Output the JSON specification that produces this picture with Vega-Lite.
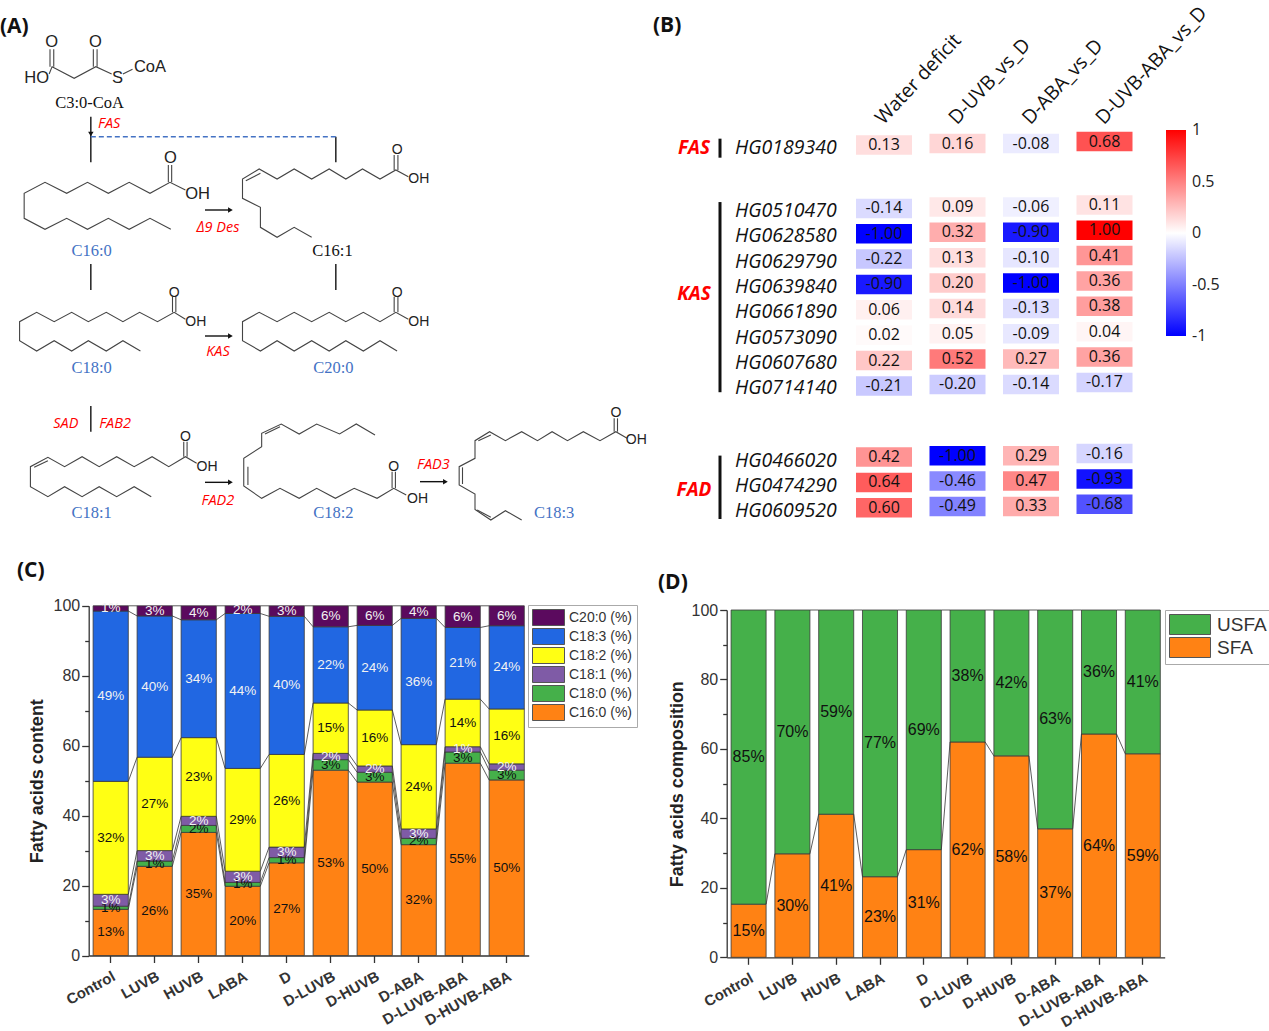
{"$schema":"https://vega.github.io/schema/vega-lite/v6.json","padding":0,"background":"white","columns":2,"spacing":0,"bounds":"flush","align":"all","config":{"view":{"stroke":null}},"concat":[
{"width":650,"height":550,"title":{"text":"(A)","anchor":"start","frame":"group","offset":-37,"dx":0,"font":"Open Sans","fontSize":21,"fontWeight":"bold","color":"#111"},"layer":[
{"data":{"values":[
{"s":"c3","x":[118,125,178,230,268],"y":[222,200,235,200,222]},{"s":"c3a","x":[120,120],"y":[148,200]},{"s":"c3b","x":[129,129],"y":[148,200]},{"s":"c3c","x":[224,224],"y":[148,200]},{"s":"c3d","x":[233,233],"y":[148,200]},{"s":"c3e","x":[295,318],"y":[222,208]},
{"s":"c160","x":[445,408,360,310,260,210,160,108,58,58,108,160,210,260,310,360,410],"y":[570,547,580,547,580,547,580,547,580,655,688,655,688,655,688,655,688]},{"s":"c160a","x":[404,404],"y":[495,547]},{"s":"c160b","x":[412,412],"y":[495,547]},
{"s":"c161","x":[980,950,912,870,830,790,748,706,665,622,582,582,625,625,665,706,748],"y":[530,510,537,507,537,507,537,507,537,507,537,595,622,682,712,682,712]},{"s":"c161a","x":[590,625],"y":[542,520]},{"s":"c161b","x":[946,946],"y":[465,510]},{"s":"c161c","x":[955,955],"y":[465,510]},
{"s":"c180","x":[445,418,378,335,295,255,212,172,130,88,47,47,88,130,172,212,255,295,337],"y":[958,937,965,937,965,937,965,937,965,937,965,1022,1053,1022,1053,1022,1053,1022,1053]},{"s":"c180a","x":[414,414],"y":[890,937]},{"s":"c180b","x":[422,422],"y":[890,937]},
{"s":"c200","x":[980,950,912,872,830,790,748,706,665,622,582,582,625,665,706,748,790,830,872,912,953],"y":[958,937,965,937,965,937,965,937,965,937,965,1022,1053,1022,1053,1022,1053,1022,1053,1022,1053]},{"s":"c200a","x":[946,946],"y":[890,937]},{"s":"c200b","x":[955,955],"y":[890,937]},
{"s":"c181","x":[472,445,405,365,322,280,238,197,155,115,73,73,115,155,197,238,280,322,363],"y":[1390,1370,1400,1370,1400,1370,1400,1370,1400,1372,1400,1460,1490,1460,1490,1460,1490,1460,1490]},{"s":"c181a","x":[82,115],"y":[1402,1382]},{"s":"c181b","x":[441,441],"y":[1325,1370]},{"s":"c181c","x":[449,449],"y":[1325,1370]},
{"s":"c182","x":[900,855,815,760,718,675,628,628,585,585,628,672,718,760,805,850,905,945,975],"y":[1305,1272,1302,1272,1302,1272,1300,1340,1375,1458,1495,1465,1495,1465,1495,1465,1495,1465,1485]},{"s":"c182a","x":[636,672],"y":[1302,1280]},{"s":"c182b","x":[595,595],"y":[1400,1455]},{"s":"c182c","x":[941,941],"y":[1415,1465]},{"s":"c182d","x":[949,949],"y":[1415,1465]},
{"s":"c183","x":[1505,1478,1440,1400,1362,1325,1290,1252,1213,1175,1140,1140,1102,1102,1140,1140,1178,1213,1252],"y":[1315,1295,1322,1295,1322,1295,1322,1295,1322,1295,1322,1375,1400,1455,1482,1528,1560,1532,1560]},{"s":"c183a","x":[1148,1178],"y":[1322,1305]},{"s":"c183b","x":[1110,1110],"y":[1402,1452]},{"s":"c183c","x":[1145,1178],"y":[1530,1552]},{"s":"c183d","x":[1474,1474],"y":[1255,1295]},{"s":"c183e","x":[1482,1482],"y":[1255,1295]}
]},"transform":[{"flatten":["x","y"]},{"window":[{"op":"row_number","as":"o"}]}],"mark":{"type":"line","color":"#444","strokeWidth":1.1},"encoding":{"x":{"field":"x","type":"quantitative","scale":{"domain":[0,1560],"range":[0,650],"nice":false,"zero":false},"axis":null},"y":{"field":"y","type":"quantitative","scale":{"domain":[0,1650],"range":[0,550],"nice":false,"zero":false},"axis":null},"detail":{"field":"s"},"order":{"field":"o"}}},
{"data":{"values":[
{"s":"a1","x":[218,218],"y":[350,487]},{"s":"a2","x":[806,806],"y":[410,487]},{"s":"a3","x":[218,218],"y":[792,870]},{"s":"a4","x":[806,806],"y":[792,870]},{"s":"a5","x":[218,218],"y":[1218,1295]},{"s":"a6","x":[492,552],"y":[630,630]},{"s":"a7","x":[492,552],"y":[1008,1008]},{"s":"a8","x":[492,552],"y":[1447,1447]},{"s":"a9","x":[1008,1068],"y":[1445,1445]}
]},"transform":[{"flatten":["x","y"]}],"mark":{"type":"line","color":"#111","strokeWidth":1.4},"encoding":{"x":{"field":"x","type":"quantitative"},"y":{"field":"y","type":"quantitative"},"detail":{"field":"s"}}},
{"data":{"values":[{"x":[218,806],"y":[410,410]}]},"transform":[{"flatten":["x","y"]}],"mark":{"type":"line","color":"#4472c4","strokeWidth":1.5,"strokeDash":[5,3]},"encoding":{"x":{"field":"x","type":"quantitative"},"y":{"field":"y","type":"quantitative"}}},
{"data":{"values":[{"x":218,"y":402,"shape":"triangle-down"},{"x":553,"y":630,"shape":"triangle-right"},{"x":553,"y":1008,"shape":"triangle-right"},{"x":553,"y":1447,"shape":"triangle-right"},{"x":1069,"y":1445,"shape":"triangle-right"}]},"mark":{"type":"point","filled":true,"color":"#111","size":30,"opacity":1},"encoding":{"x":{"field":"x","type":"quantitative"},"y":{"field":"y","type":"quantitative"},"shape":{"field":"shape","type":"nominal","scale":null}}},
{"data":{"values":[{"t":"C3:0-CoA","x":215,"y":310},{"t":"C16:1","x":798,"y":752}]},"mark":{"type":"text","font":"Liberation Serif","fontSize":16.5,"color":"#111"},"encoding":{"x":{"field":"x","type":"quantitative"},"y":{"field":"y","type":"quantitative"},"text":{"field":"t"}}},
{"data":{"values":[{"t":"C16:0","x":220,"y":752},{"t":"C18:0","x":220,"y":1103},{"t":"C20:0","x":800,"y":1103},{"t":"C18:1","x":220,"y":1540},{"t":"C18:2","x":800,"y":1540},{"t":"C18:3","x":1330,"y":1540}]},"mark":{"type":"text","font":"Liberation Serif","fontSize":16.5,"color":"#4472c4"},"encoding":{"x":{"field":"x","type":"quantitative"},"y":{"field":"y","type":"quantitative"},"text":{"field":"t"}}},
{"data":{"values":[{"t":"FAS","x":262,"y":373},{"t":"Δ9 Des","x":523,"y":684},{"t":"KAS","x":523,"y":1055},{"t":"SAD","x":158,"y":1273},{"t":"FAB2","x":276,"y":1273},{"t":"FAD2","x":523,"y":1503},{"t":"FAD3","x":1040,"y":1395}]},"mark":{"type":"text","font":"Open Sans","fontStyle":"italic","fontSize":14.5,"color":"#ff0000"},"encoding":{"x":{"field":"x","type":"quantitative"},"y":{"field":"y","type":"quantitative"},"text":{"field":"t"}}},
{"data":{"values":[{"t":"HO","x":88,"y":235},{"t":"O","x":124,"y":125},{"t":"O","x":229,"y":125},{"t":"S","x":282,"y":235},{"t":"CoA","x":360,"y":200},{"t":"O","x":409,"y":475},{"t":"OH","x":474,"y":583}]},"mark":{"type":"text","font":"Liberation Sans","fontSize":16.5,"color":"#222"},"encoding":{"x":{"field":"x","type":"quantitative"},"y":{"field":"y","type":"quantitative"},"text":{"field":"t"}}},
{"data":{"values":[{"t":"O","x":953,"y":450},{"t":"OH","x":1005,"y":538},{"t":"O","x":418,"y":878},{"t":"OH","x":470,"y":965},{"t":"O","x":953,"y":878},{"t":"OH","x":1005,"y":965},{"t":"O","x":445,"y":1312},{"t":"OH","x":497,"y":1400},{"t":"O","x":945,"y":1400},{"t":"OH","x":1002,"y":1498},{"t":"O","x":1478,"y":1240},{"t":"OH","x":1527,"y":1320}]},"mark":{"type":"text","font":"Liberation Sans","fontSize":14,"color":"#222"},"encoding":{"x":{"field":"x","type":"quantitative"},"y":{"field":"y","type":"quantitative"},"text":{"field":"t"}}}
]},
{"width":619,"height":550,"title":{"text":"(B)","anchor":"start","frame":"group","offset":-36,"dx":3,"font":"Open Sans","fontSize":21,"fontWeight":"bold","color":"#111"},
"data":{"values":[
{"gene":"HG0189340","comparison":"Water deficit","value":0.13},{"gene":"HG0189340","comparison":"D-UVB_vs_D","value":0.16},{"gene":"HG0189340","comparison":"D-ABA_vs_D","value":-0.08},{"gene":"HG0189340","comparison":"D-UVB-ABA_vs_D","value":0.68},
{"gene":"HG0510470","comparison":"Water deficit","value":-0.14},{"gene":"HG0510470","comparison":"D-UVB_vs_D","value":0.09},{"gene":"HG0510470","comparison":"D-ABA_vs_D","value":-0.06},{"gene":"HG0510470","comparison":"D-UVB-ABA_vs_D","value":0.11},
{"gene":"HG0628580","comparison":"Water deficit","value":-1},{"gene":"HG0628580","comparison":"D-UVB_vs_D","value":0.32},{"gene":"HG0628580","comparison":"D-ABA_vs_D","value":-0.9},{"gene":"HG0628580","comparison":"D-UVB-ABA_vs_D","value":1},
{"gene":"HG0629790","comparison":"Water deficit","value":-0.22},{"gene":"HG0629790","comparison":"D-UVB_vs_D","value":0.13},{"gene":"HG0629790","comparison":"D-ABA_vs_D","value":-0.1},{"gene":"HG0629790","comparison":"D-UVB-ABA_vs_D","value":0.41},
{"gene":"HG0639840","comparison":"Water deficit","value":-0.9},{"gene":"HG0639840","comparison":"D-UVB_vs_D","value":0.2},{"gene":"HG0639840","comparison":"D-ABA_vs_D","value":-1},{"gene":"HG0639840","comparison":"D-UVB-ABA_vs_D","value":0.36},
{"gene":"HG0661890","comparison":"Water deficit","value":0.06},{"gene":"HG0661890","comparison":"D-UVB_vs_D","value":0.14},{"gene":"HG0661890","comparison":"D-ABA_vs_D","value":-0.13},{"gene":"HG0661890","comparison":"D-UVB-ABA_vs_D","value":0.38},
{"gene":"HG0573090","comparison":"Water deficit","value":0.02},{"gene":"HG0573090","comparison":"D-UVB_vs_D","value":0.05},{"gene":"HG0573090","comparison":"D-ABA_vs_D","value":-0.09},{"gene":"HG0573090","comparison":"D-UVB-ABA_vs_D","value":0.04},
{"gene":"HG0607680","comparison":"Water deficit","value":0.22},{"gene":"HG0607680","comparison":"D-UVB_vs_D","value":0.52},{"gene":"HG0607680","comparison":"D-ABA_vs_D","value":0.27},{"gene":"HG0607680","comparison":"D-UVB-ABA_vs_D","value":0.36},
{"gene":"HG0714140","comparison":"Water deficit","value":-0.21},{"gene":"HG0714140","comparison":"D-UVB_vs_D","value":-0.2},{"gene":"HG0714140","comparison":"D-ABA_vs_D","value":-0.14},{"gene":"HG0714140","comparison":"D-UVB-ABA_vs_D","value":-0.17},
{"gene":"HG0466020","comparison":"Water deficit","value":0.42},{"gene":"HG0466020","comparison":"D-UVB_vs_D","value":-1},{"gene":"HG0466020","comparison":"D-ABA_vs_D","value":0.29},{"gene":"HG0466020","comparison":"D-UVB-ABA_vs_D","value":-0.16},
{"gene":"HG0474290","comparison":"Water deficit","value":0.64},{"gene":"HG0474290","comparison":"D-UVB_vs_D","value":-0.46},{"gene":"HG0474290","comparison":"D-ABA_vs_D","value":0.47},{"gene":"HG0474290","comparison":"D-UVB-ABA_vs_D","value":-0.93},
{"gene":"HG0609520","comparison":"Water deficit","value":0.6},{"gene":"HG0609520","comparison":"D-UVB_vs_D","value":-0.49},{"gene":"HG0609520","comparison":"D-ABA_vs_D","value":0.33},{"gene":"HG0609520","comparison":"D-UVB-ABA_vs_D","value":-0.68}
]},
"encoding":{"x":{"field":"comparison","type":"nominal","scale":{"domain":["Water deficit","D-UVB_vs_D","D-ABA_vs_D","D-UVB-ABA_vs_D"],"range":[197.25,491.25],"padding":0},"axis":{"orient":"top","title":null,"offset":-125,"domain":false,"ticks":false,"labelAngle":-47,"labelAlign":"left","labelBaseline":"middle","labelPadding":4,"labelOffset":-5,"labelFont":"Open Sans","labelFontSize":19.5,"labelColor":"#111","labelOverlap":false,"labelBound":false,"labelLimit":300}},"y":{"field":"gene","type":"nominal","scale":{"domain":["s00","HG0189340","s1","s2","s3","s4","s5","s6","s7","s8","s9","HG0510470","s11","s12","s13","HG0628580","s15","s16","s17","HG0629790","s19","s20","s21","HG0639840","s23","s24","s25","HG0661890","s27","s28","s29","HG0573090","s31","s32","s33","HG0607680","s35","s36","s37","HG0714140","s39","s40","s41","s42","s43","s44","s45","s46","s47","s48","HG0466020","s50","s51","s52","HG0474290","s54","s55","s56","HG0609520","s58","s59","s60"],"range":[135.5,528.5],"padding":0},"axis":{"title":null,"offset":-197.25,"domain":false,"ticks":false,"labelPadding":11,"values":["HG0189340","HG0510470","HG0628580","HG0629790","HG0639840","HG0661890","HG0573090","HG0607680","HG0714140","HG0466020","HG0474290","HG0609520"],"labelOffset":{"expr":"indexof(['HG0466020','HG0474290','HG0609520'],datum.value)>=0?5:2.5"},"labelFont":"Open Sans","labelFontStyle":"italic","labelFontSize":19.5,"labelColor":"#111","labelOverlap":false,"labelBound":false}}},
"layer":[
{"mark":{"type":"rect","width":56,"height":19.5,"yOffset":{"expr":"(datum.comparison==='Water deficit'?0:datum.comparison==='D-UVB-ABA_vs_D'?-3.5:-1.4)+(indexof(['HG0466020','HG0474290','HG0609520'],datum.gene)>=0?1.5:0)"}},"encoding":{"color":{"field":"value","type":"quantitative","scale":{"domain":[-1,0,1],"range":["#0000ff","#ffffff","#ff0000"],"interpolate":"rgb"},"legend":{"orient":"none","legendX":516,"legendY":130,"title":null,"direction":"vertical","gradientLength":206,"gradientThickness":20,"values":[1,0.5,0,-0.5,-1],"labelExpr":"replace(format(datum.value,'.2~f'),'−','-')","labelFont":"Open Sans","labelFontSize":16,"labelColor":"#222","labelOffset":6,"labelOverlap":false,"encode":{"labels":{"update":{"baseline":{"value":"middle"}}}}}}}},
{"transform":[{"calculate":"replace(format(datum.value,'.2f'),'−','-')","as":"shown"}],"mark":{"type":"text","font":"Open Sans","fontSize":16,"color":"#111","yOffset":{"expr":"(datum.comparison==='Water deficit'?0:datum.comparison==='D-UVB-ABA_vs_D'?-3.5:-1.4)+(indexof(['HG0466020','HG0474290','HG0609520'],datum.gene)>=0?1.5:0)"}},"encoding":{"text":{"field":"shown"}}},
{"data":{"values":[{"f":"FAS","gene":"HG0189340","comparison":"Water deficit"},{"f":"KAS","gene":"s23","comparison":"Water deficit"},{"f":"FAD","gene":"s54","comparison":"Water deficit"}]},"mark":{"type":"text","font":"Open Sans","fontSize":19,"fontWeight":"bold","fontStyle":"italic","color":"#ff0000","dx":-190,"dy":3},"encoding":{"text":{"field":"f"}}},
{"data":{"values":[{"f":"FAS","a":"s00","b":"s2"},{"f":"KAS","a":"s9","b":"s39"},{"f":"FAD","a":"HG0466020","b":"s59"}]},"mark":{"type":"rule","color":"#111","strokeWidth":3,"xOffset":-164},"encoding":{"x":{"datum":"Water deficit"},"y":{"field":"a","type":"nominal"},"y2":{"field":"b"}}}
]},
{"width":650,"height":481,"title":{"text":"(C)","anchor":"start","frame":"group","offset":-31,"dx":17,"font":"Open Sans","fontSize":21,"fontWeight":"bold","color":"#111"},
"data":{"values":[
{"treatment":"Control","fa":"C16:0 (%)","value":13.2,"label":"13%"},{"treatment":"Control","fa":"C18:0 (%)","value":0.9,"label":"1%"},{"treatment":"Control","fa":"C18:1 (%)","value":3.4,"label":"3%"},{"treatment":"Control","fa":"C18:2 (%)","value":32.3,"label":"32%"},{"treatment":"Control","fa":"C18:3 (%)","value":48.7,"label":"49%"},{"treatment":"Control","fa":"C20:0 (%)","value":1.5,"label":"1%"},
{"treatment":"LUVB","fa":"C16:0 (%)","value":25.5,"label":"26%"},{"treatment":"LUVB","fa":"C18:0 (%)","value":1.5,"label":"1%"},{"treatment":"LUVB","fa":"C18:1 (%)","value":3,"label":"3%"},{"treatment":"LUVB","fa":"C18:2 (%)","value":26.7,"label":"27%"},{"treatment":"LUVB","fa":"C18:3 (%)","value":40.4,"label":"40%"},{"treatment":"LUVB","fa":"C20:0 (%)","value":2.9,"label":"3%"},
{"treatment":"HUVB","fa":"C16:0 (%)","value":35.2,"label":"35%"},{"treatment":"HUVB","fa":"C18:0 (%)","value":2,"label":"2%"},{"treatment":"HUVB","fa":"C18:1 (%)","value":2.6,"label":"2%"},{"treatment":"HUVB","fa":"C18:2 (%)","value":22.5,"label":"23%"},{"treatment":"HUVB","fa":"C18:3 (%)","value":33.7,"label":"34%"},{"treatment":"HUVB","fa":"C20:0 (%)","value":4,"label":"4%"},
{"treatment":"LABA","fa":"C16:0 (%)","value":19.8,"label":"20%"},{"treatment":"LABA","fa":"C18:0 (%)","value":1.1,"label":"1%"},{"treatment":"LABA","fa":"C18:1 (%)","value":3.2,"label":"3%"},{"treatment":"LABA","fa":"C18:2 (%)","value":29.4,"label":"29%"},{"treatment":"LABA","fa":"C18:3 (%)","value":44.3,"label":"44%"},{"treatment":"LABA","fa":"C20:0 (%)","value":2.2,"label":"2%"},
{"treatment":"D","fa":"C16:0 (%)","value":26.5,"label":"27%"},{"treatment":"D","fa":"C18:0 (%)","value":1.5,"label":"1%"},{"treatment":"D","fa":"C18:1 (%)","value":3,"label":"3%"},{"treatment":"D","fa":"C18:2 (%)","value":26.5,"label":"26%"},{"treatment":"D","fa":"C18:3 (%)","value":39.5,"label":"40%"},{"treatment":"D","fa":"C20:0 (%)","value":3,"label":"3%"},
{"treatment":"D-LUVB","fa":"C16:0 (%)","value":53,"label":"53%"},{"treatment":"D-LUVB","fa":"C18:0 (%)","value":3,"label":"3%"},{"treatment":"D-LUVB","fa":"C18:1 (%)","value":1.8,"label":"2%"},{"treatment":"D-LUVB","fa":"C18:2 (%)","value":14.4,"label":"15%"},{"treatment":"D-LUVB","fa":"C18:3 (%)","value":21.8,"label":"22%"},{"treatment":"D-LUVB","fa":"C20:0 (%)","value":6,"label":"6%"},
{"treatment":"D-HUVB","fa":"C16:0 (%)","value":49.6,"label":"50%"},{"treatment":"D-HUVB","fa":"C18:0 (%)","value":2.8,"label":"3%"},{"treatment":"D-HUVB","fa":"C18:1 (%)","value":1.8,"label":"2%"},{"treatment":"D-HUVB","fa":"C18:2 (%)","value":16,"label":"16%"},{"treatment":"D-HUVB","fa":"C18:3 (%)","value":24.2,"label":"24%"},{"treatment":"D-HUVB","fa":"C20:0 (%)","value":5.6,"label":"6%"},
{"treatment":"D-ABA","fa":"C16:0 (%)","value":31.7,"label":"32%"},{"treatment":"D-ABA","fa":"C18:0 (%)","value":1.8,"label":"2%"},{"treatment":"D-ABA","fa":"C18:1 (%)","value":2.7,"label":"3%"},{"treatment":"D-ABA","fa":"C18:2 (%)","value":24.1,"label":"24%"},{"treatment":"D-ABA","fa":"C18:3 (%)","value":36.1,"label":"36%"},{"treatment":"D-ABA","fa":"C20:0 (%)","value":3.6,"label":"4%"},
{"treatment":"D-LUVB-ABA","fa":"C16:0 (%)","value":55,"label":"55%"},{"treatment":"D-LUVB-ABA","fa":"C18:0 (%)","value":3.2,"label":"3%"},{"treatment":"D-LUVB-ABA","fa":"C18:1 (%)","value":1.5,"label":"1%"},{"treatment":"D-LUVB-ABA","fa":"C18:2 (%)","value":13.6,"label":"14%"},{"treatment":"D-LUVB-ABA","fa":"C18:3 (%)","value":20.5,"label":"21%"},{"treatment":"D-LUVB-ABA","fa":"C20:0 (%)","value":6.2,"label":"6%"},
{"treatment":"D-HUVB-ABA","fa":"C16:0 (%)","value":50.2,"label":"50%"},{"treatment":"D-HUVB-ABA","fa":"C18:0 (%)","value":2.8,"label":"3%"},{"treatment":"D-HUVB-ABA","fa":"C18:1 (%)","value":1.8,"label":"2%"},{"treatment":"D-HUVB-ABA","fa":"C18:2 (%)","value":15.7,"label":"16%"},{"treatment":"D-HUVB-ABA","fa":"C18:3 (%)","value":23.8,"label":"24%"},{"treatment":"D-HUVB-ABA","fa":"C20:0 (%)","value":5.7,"label":"6%"}
]},
"transform":[{"calculate":"indexof(['Control','LUVB','HUVB','LABA','D','D-LUVB','D-HUVB','D-ABA','D-LUVB-ABA','D-HUVB-ABA'],datum.treatment)","as":"ti"},{"calculate":"indexof(['C16:0 (%)','C18:0 (%)','C18:1 (%)','C18:2 (%)','C18:3 (%)','C20:0 (%)'],datum.fa)","as":"fi"},{"stack":"value","groupby":["treatment"],"sort":[{"field":"fi","order":"ascending"}],"as":["y0","y1"]},{"calculate":"(datum.y0+datum.y1)/2","as":"mid"}],
"layer":[
{"mark":{"type":"bar","stroke":"#3a3a3a","strokeWidth":0.8},"encoding":{"x":{"field":"treatment","type":"nominal","scale":{"domain":["Control","LUVB","HUVB","LABA","D","D-LUVB","D-HUVB","D-ABA","D-LUVB-ABA","D-HUVB-ABA"],"range":[88.7,528.7],"paddingInner":0.2,"paddingOuter":0.1},"axis":{"title":null,"orient":"bottom","offset":-75.5,"labelAngle":-29,"labelAlign":"right","labelBaseline":"top","labelFont":"Liberation Sans","labelFontWeight":"bold","labelFontSize":15,"labelColor":"#333","tickColor":"#333","domainColor":"#333","domainWidth":1.3,"tickWidth":1.3,"tickSize":7,"labelPadding":6,"labelOverlap":false,"labelBound":false}},"y":{"field":"y0","type":"quantitative","scale":{"domain":[0,100],"range":[405.5,55.8],"nice":false,"zero":false},"axis":{"title":"Fatty acids content","orient":"left","offset":-88.7,"grid":false,"values":[0,10,20,30,40,50,60,70,80,90,100],"labelExpr":"datum.value%20==0?datum.label:''","tickSize":{"expr":"datum.value%20==0?7:4"},"labelFont":"Liberation Sans","labelFontSize":16,"labelColor":"#333","tickColor":"#333","domainColor":"#333","domainWidth":1.3,"tickWidth":1.3,"titleFont":"Liberation Sans","titleFontSize":18,"titleFontWeight":"bold","titleColor":"#222","titlePadding":7,"labelOverlap":false,"labelBound":false}},"y2":{"field":"y1"},"color":{"field":"fa","type":"nominal","scale":{"domain":["C20:0 (%)","C18:3 (%)","C18:2 (%)","C18:1 (%)","C18:0 (%)","C16:0 (%)"],"range":["#5b0a5e","#2167e2","#ffff14","#7f5ba6","#45b04a","#ff8214"]},"legend":{"orient":"none","legendX":528,"legendY":55,"title":null,"symbolType":"M-1,-1H3V1H-1Z","symbolSize":256,"symbolStrokeColor":"#555","symbolStrokeWidth":1,"labelOffset":20,"labelFont":"Liberation Sans","labelFontSize":14,"labelColor":"#333","rowPadding":-4.5,"padding":4,"strokeColor":"#aaa","fillColor":"#fff"}}}},
{"transform":[{"window":[{"op":"lead","field":"y1","as":"ny"},{"op":"lead","field":"treatment","as":"nc"}],"groupby":["fa"],"sort":[{"field":"ti","order":"ascending"}]},{"filter":"isValid(datum.nc)"},{"calculate":"[{c:datum.treatment,s:'R',v:datum.y1},{c:datum.nc,s:'L',v:datum.ny}]","as":"pts"},{"flatten":["pts"]},{"calculate":"datum.pts.c","as":"pc"},{"calculate":"datum.pts.s","as":"ps"},{"calculate":"datum.pts.v","as":"pv"},{"calculate":"datum.fa+datum.ti","as":"seg"}],"mark":{"type":"line","color":"#333","strokeWidth":0.8},"encoding":{"x":{"field":"pc","type":"nominal"},"xOffset":{"field":"ps","type":"nominal","scale":{"type":"point","domain":["L","R"],"padding":0}},"y":{"field":"pv","type":"quantitative"},"detail":{"field":"seg"}}},
{"mark":{"type":"text","font":"Liberation Sans","fontSize":13.5},"encoding":{"x":{"field":"treatment","type":"nominal"},"y":{"field":"mid","type":"quantitative"},"text":{"field":"label"},"color":{"condition":{"test":"datum.fi>=4||datum.fi==2","value":"#f2f2f2"},"value":"#111"}}}
],"resolve":{"scale":{"xOffset":"independent"}}},
{"width":619,"height":481,"title":{"text":"(D)","anchor":"start","frame":"group","offset":-43,"dx":8,"font":"Open Sans","fontSize":21,"fontWeight":"bold","color":"#111"},
"data":{"values":[
{"treatment":"Control","fa":"SFA","value":15.3,"label":"15%"},{"treatment":"Control","fa":"USFA","value":84.7,"label":"85%"},
{"treatment":"LUVB","fa":"SFA","value":29.8,"label":"30%"},{"treatment":"LUVB","fa":"USFA","value":70.2,"label":"70%"},
{"treatment":"HUVB","fa":"SFA","value":41.2,"label":"41%"},{"treatment":"HUVB","fa":"USFA","value":58.8,"label":"59%"},
{"treatment":"LABA","fa":"SFA","value":23.2,"label":"23%"},{"treatment":"LABA","fa":"USFA","value":76.8,"label":"77%"},
{"treatment":"D","fa":"SFA","value":31,"label":"31%"},{"treatment":"D","fa":"USFA","value":69,"label":"69%"},
{"treatment":"D-LUVB","fa":"SFA","value":62,"label":"62%"},{"treatment":"D-LUVB","fa":"USFA","value":38,"label":"38%"},
{"treatment":"D-HUVB","fa":"SFA","value":58,"label":"58%"},{"treatment":"D-HUVB","fa":"USFA","value":42,"label":"42%"},
{"treatment":"D-ABA","fa":"SFA","value":37,"label":"37%"},{"treatment":"D-ABA","fa":"USFA","value":63,"label":"63%"},
{"treatment":"D-LUVB-ABA","fa":"SFA","value":64.3,"label":"64%"},{"treatment":"D-LUVB-ABA","fa":"USFA","value":35.7,"label":"36%"},
{"treatment":"D-HUVB-ABA","fa":"SFA","value":58.6,"label":"59%"},{"treatment":"D-HUVB-ABA","fa":"USFA","value":41.4,"label":"41%"}
]},
"transform":[{"calculate":"indexof(['Control','LUVB','HUVB','LABA','D','D-LUVB','D-HUVB','D-ABA','D-LUVB-ABA','D-HUVB-ABA'],datum.treatment)","as":"ti"},{"calculate":"indexof(['SFA','USFA'],datum.fa)","as":"fi"},{"stack":"value","groupby":["treatment"],"sort":[{"field":"fi","order":"ascending"}],"as":["y0","y1"]},{"calculate":"(datum.y0+datum.y1)/2","as":"mid"}],
"layer":[
{"mark":{"type":"bar","stroke":"#3a3a3a","strokeWidth":0.8},"encoding":{"x":{"field":"treatment","type":"nominal","scale":{"domain":["Control","LUVB","HUVB","LABA","D","D-LUVB","D-HUVB","D-ABA","D-LUVB-ABA","D-HUVB-ABA"],"range":[76.7,514.7],"paddingInner":0.2,"paddingOuter":0.1},"axis":{"title":null,"orient":"bottom","offset":-73.7,"labelAngle":-29,"labelAlign":"right","labelBaseline":"top","labelFont":"Liberation Sans","labelFontWeight":"bold","labelFontSize":15,"labelColor":"#333","tickColor":"#333","domainColor":"#333","domainWidth":1.3,"tickWidth":1.3,"tickSize":7,"labelPadding":6,"labelOverlap":false,"labelBound":false}},"y":{"field":"y0","type":"quantitative","scale":{"domain":[0,100],"range":[407.3,60],"nice":false,"zero":false},"axis":{"title":"Fatty acids composition","orient":"left","offset":-76.7,"grid":false,"values":[0,10,20,30,40,50,60,70,80,90,100],"labelExpr":"datum.value%20==0?datum.label:''","tickSize":{"expr":"datum.value%20==0?7:4"},"labelFont":"Liberation Sans","labelFontSize":16,"labelColor":"#333","tickColor":"#333","domainColor":"#333","domainWidth":1.3,"tickWidth":1.3,"titleFont":"Liberation Sans","titleFontSize":18,"titleFontWeight":"bold","titleColor":"#222","titlePadding":5,"labelOverlap":false,"labelBound":false}},"y2":{"field":"y1"},"color":{"field":"fa","type":"nominal","scale":{"domain":["USFA","SFA"],"range":["#45b04a","#ff8214"]},"legend":{"orient":"none","legendX":515,"legendY":60,"title":null,"symbolType":"M-1,-1H3.1V1H-1Z","symbolSize":400,"symbolStrokeColor":"#555","symbolStrokeWidth":1,"labelOffset":27,"labelFont":"Liberation Sans","labelFontSize":19,"labelColor":"#333","rowPadding":-5,"padding":4,"strokeColor":"#aaa","fillColor":"#fff"}}}},
{"transform":[{"window":[{"op":"lead","field":"y1","as":"ny"},{"op":"lead","field":"treatment","as":"nc"}],"groupby":["fa"],"sort":[{"field":"ti","order":"ascending"}]},{"filter":"isValid(datum.nc)"},{"calculate":"[{c:datum.treatment,s:'R',v:datum.y1},{c:datum.nc,s:'L',v:datum.ny}]","as":"pts"},{"flatten":["pts"]},{"calculate":"datum.pts.c","as":"pc"},{"calculate":"datum.pts.s","as":"ps"},{"calculate":"datum.pts.v","as":"pv"},{"calculate":"datum.fa+datum.ti","as":"seg"}],"mark":{"type":"line","color":"#333","strokeWidth":0.8},"encoding":{"x":{"field":"pc","type":"nominal"},"xOffset":{"field":"ps","type":"nominal","scale":{"type":"point","domain":["L","R"],"padding":0}},"y":{"field":"pv","type":"quantitative"},"detail":{"field":"seg"}}},
{"mark":{"type":"text","font":"Liberation Sans","fontSize":16,"color":"#111"},"encoding":{"x":{"field":"treatment","type":"nominal"},"y":{"field":"mid","type":"quantitative"},"text":{"field":"label"}}}
],"resolve":{"scale":{"xOffset":"independent"}}}
]}
